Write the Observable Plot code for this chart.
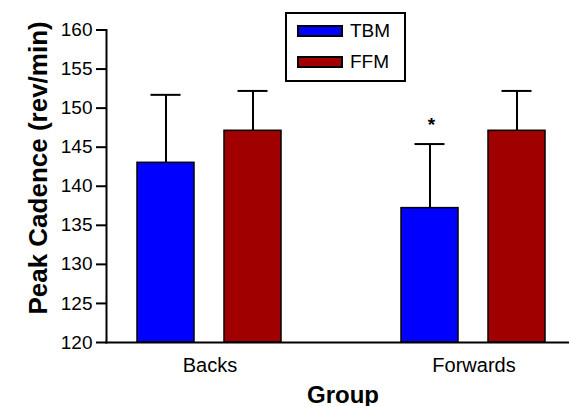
<!DOCTYPE html>
<html>
<head>
<meta charset="utf-8">
<script src="https://cdn.jsdelivr.net/npm/d3@7"></script>
<script src="https://cdn.jsdelivr.net/npm/@observablehq/plot@0.6"></script>
<style>
  html, body { margin: 0; padding: 0; background: #fff; overflow: hidden; }
  #wrap { position: relative; width: 569px; height: 406px; font-family: "Liberation Sans", Arial, sans-serif; }
  #legend { position: absolute; left: 285px; top: 12px; width: 121px; height: 70px; box-sizing: border-box; border: 2px solid #000; background: #fff; }
  .sw { position: absolute; left: 10px; width: 46px; height: 12px; box-sizing: border-box; border: 2px solid #000; }
  .lt { position: absolute; left: 63px; font-size: 19px; line-height: 22px; color: #000; }
</style>
</head>
<body>
<div id="wrap"></div>
<script>
// ---- data ----
const groups = ["Backs", "Forwards"];
const series = ["TBM", "FFM"];
const meanTBM = [143.0, 137.2];
const meanFFM = [147.1, 147.1];
const upperTBM = [151.7, 145.4];
const upperFFM = [152.2, 152.2];
const yTicks = [120, 125, 130, 135, 140, 145, 150, 155, 160];
const colors = ["#0000ff", "#a00000"];
const sigMarks = [{group: "Forwards", series: "TBM", label: "*"}];
const yTitle = "Peak Cadence (rev/min)";
const xTitle = "Group";

const rows = groups.flatMap((g, i) => [
  {group: g, series: "TBM", mean: meanTBM[i], upper: upperTBM[i]},
  {group: g, series: "FFM", mean: meanFFM[i], upper: upperFFM[i]}
]);
const sigRows = sigMarks.map(s => ({...s, upper: rows.find(r => r.group === s.group && r.series === s.series).upper}));

const font = "'Liberation Sans', Arial, sans-serif";

const chart = Plot.plot({
  width: 569,
  height: 406,
  marginLeft: 106,
  marginRight: -8.5,
  marginTop: 29.5,
  marginBottom: 64,
  style: {fontFamily: font, fontSize: "18px", color: "black", background: "white"},
  fx: {domain: groups, paddingInner: 0.2174, paddingOuter: 0, label: null},
  x: {domain: series, paddingInner: 0.3409, paddingOuter: 0.3466, axis: null},
  y: {domain: [yTicks[0], yTicks[yTicks.length - 1]], axis: null},
  color: {domain: series, range: colors},
  marks: [
    Plot.barY(rows, {fx: "group", x: "series", y1: yTicks[0], y2: "mean", fill: "series", stroke: "black", strokeWidth: 1.5}),
    Plot.ruleX(rows, {fx: "group", x: "series", y1: "mean", y2: "upper", stroke: "black", strokeWidth: 2}),
    Plot.tickY(rows, {fx: "group", x: "series", y: "upper", stroke: "black", strokeWidth: 2, insetLeft: 13.5, insetRight: 13.5}),
    Plot.text(sigRows, {fx: "group", x: "series", y: "upper", text: "label", dx: 1.5, dy: -19, fontSize: 19, fontWeight: "bold"}),
    Plot.axisY({ticks: yTicks, tickSize: 10, tickPadding: 4, fontSize: 19, strokeWidth: 2, label: null}),
    Plot.axisFx({anchor: "bottom", tickSize: 0, tickPadding: 15, fontSize: 20, label: null}),
    Plot.frame({anchor: "left", facet: "super", stroke: "black", strokeWidth: 2}),
    Plot.frame({anchor: "bottom", facet: "super", stroke: "black", strokeWidth: 2}),
    Plot.text([yTitle], {facet: "super", frameAnchor: "left", textAnchor: "middle", rotate: -90, dx: -68, dy: -18.3, fontSize: 26, fontWeight: "bold"}),
    Plot.text([xTitle], {facet: "super", frameAnchor: "bottom", dx: 1, dy: 60, lineAnchor: "bottom", fontSize: 24, fontWeight: "bold"})
  ]
});

const wrap = document.getElementById("wrap");
wrap.appendChild(chart);

// legend
const legend = document.createElement("div");
legend.id = "legend";
series.forEach((s, i) => {
  const sw = document.createElement("div");
  sw.className = "sw";
  sw.style.top = (11 + i * 31) + "px";
  sw.style.background = colors[i];
  legend.appendChild(sw);
  const t = document.createElement("div");
  t.className = "lt";
  t.style.top = (6 + i * 31) + "px";
  t.textContent = s;
  legend.appendChild(t);
});
wrap.appendChild(legend);
</script>
</body>
</html>
